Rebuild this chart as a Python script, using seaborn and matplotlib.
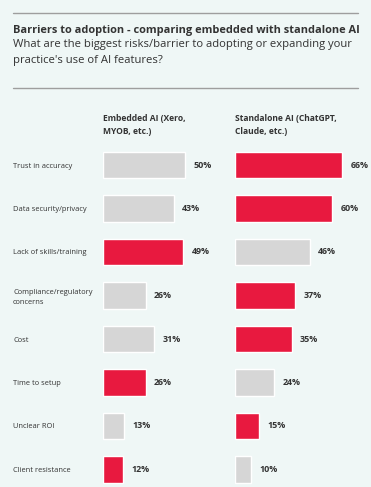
import matplotlib
matplotlib.use("Agg")
import matplotlib.pyplot as plt
import seaborn as sns
import pandas as pd

# data
categories = ["Trust in accuracy", "Data security/privacy", "Lack of skills/training",
              "Compliance/regulatory\nconcerns", "Cost", "Time to setup",
              "Unclear ROI", "Client resistance"]
embedded = [50, 43, 49, 26, 31, 26, 13, 12]
standalone = [66, 60, 46, 37, 35, 24, 15, 10]

RED = "#e8193f"
GREY = "#d6d6d6"
BG = "#eff7f6"
TXT = "#333333"

sns.set_theme(style="white")
plt.rcParams["font.family"] = ["Open Sans", "DejaVu Sans"]

W, H = 371, 487
fig = plt.figure(figsize=(W / 100, H / 100), dpi=100)
fig.patch.set_facecolor(BG)

# title block
fig.add_artist(plt.Line2D([13 / W, 358 / W], [1 - 13 / H, 1 - 13 / H], color="#9e9e9e", lw=1))
fig.add_artist(plt.Line2D([13 / W, 358 / W], [1 - 88 / H, 1 - 88 / H], color="#9e9e9e", lw=1))
fig.text(13 / W, 1 - 30 / H, "Barriers to adoption - comparing embedded with standalone AI",
         fontsize=7.9, fontweight="bold", color=TXT, va="center")
fig.text(13 / W, 1 - 45 / H, "What are the biggest risks/barrier to adopting or expanding your",
         fontsize=8.1, color=TXT, va="center")
fig.text(13 / W, 1 - 60 / H, "practice's use of AI features?",
         fontsize=8.1, color=TXT, va="center")

# axes geometry (pixels)
top, bottom = 143.25, 487
row = 43.5
ymax = 7 + (bottom - 469.5) / row

df = pd.DataFrame({"cat": categories, "emb": embedded, "std": standalone})
emb_cols = [RED if e > s else GREY for e, s in zip(embedded, standalone)]
std_cols = [RED if s > e else GREY for e, s in zip(embedded, standalone)]

panels = [
    (103, 1.64, "emb", emb_cols, "Embedded AI (Xero,\nMYOB, etc.)"),
    (235, 1.62, "std", std_cols, "Standalone AI (ChatGPT,\nClaude, etc.)"),
]

for i, (x0, scale, col, cols, header) in enumerate(panels):
    width = scale * 70
    ax = fig.add_axes([x0 / W, 1 - bottom / H, width / W, (bottom - top) / H])
    sns.barplot(data=df, x=col, y="cat", hue="cat", palette=cols, legend=False,
                width=0.61, ax=ax, saturation=1)
    ax.set_xlim(0, 70)
    ax.set_ylim(ymax, -0.5)
    ax.set_facecolor("none")
    sns.despine(ax=ax, left=True, bottom=True)
    ax.set_xticks([])
    ax.set_xlabel("")
    ax.set_ylabel("")
    for c in ax.containers:
        ax.bar_label(c, fmt="%d%%", padding=6, fontsize=6.4, fontweight="bold",
                     color=TXT, clip_on=False)
    if i == 0:
        ax.tick_params(axis="y", length=0, pad=(x0 - 13) * 0.72, labelsize=5.4,
                       labelcolor=TXT)
        for lab in ax.get_yticklabels():
            lab.set_horizontalalignment("left")
            lab.set_linespacing(1.6)
    else:
        ax.set_yticks([])
    fig.text(x0 / W, 1 - 125 / H, header, fontsize=6.1, fontweight="bold",
             color=TXT, va="center", ha="left", linespacing=1.5)

fig.savefig("out.png", dpi=100, facecolor=BG)
